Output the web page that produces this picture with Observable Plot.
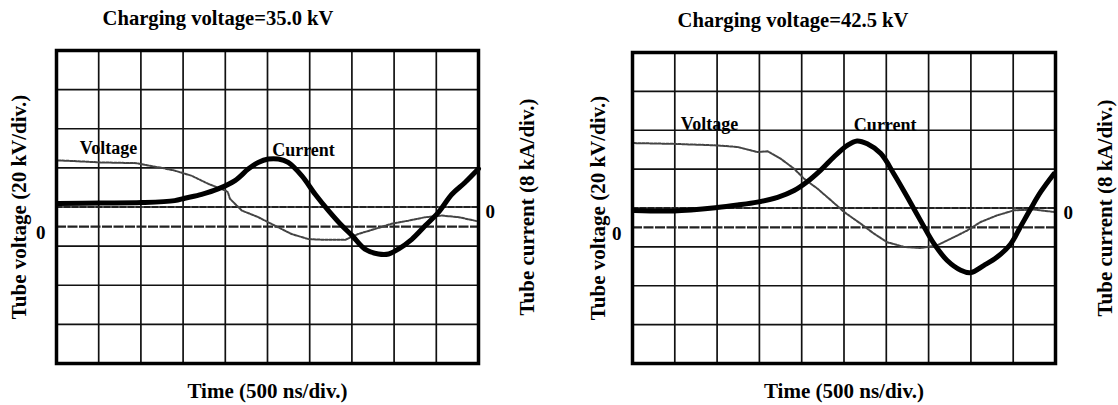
<!DOCTYPE html>
<html><head><meta charset="utf-8">
<script src="https://cdn.jsdelivr.net/npm/d3@7"></script>
<script src="https://cdn.jsdelivr.net/npm/@observablehq/plot@0.6"></script>
<style>
html,body{margin:0;padding:0;background:#fff;width:1118px;height:405px;overflow:hidden;}
.panel{position:absolute;top:0;}
.title{position:absolute;font-family:"Liberation Serif","Times New Roman",serif;font-weight:bold;font-size:20.6px;white-space:nowrap;transform:translate(-50%,-50%);color:#000;}
</style></head><body>
<div id="root"></div>
<script>
// Oscilloscope scales
const T_PER_DIV = 500;   // ns/div
const V_PER_DIV = 20;    // kV/div
const I_PER_DIV = 8;     // kA/div
const V_ZERO_DIV = -0.5; // voltage zero trace position (div from centre)
const I_ZERO_DIV = 0;    // current zero trace position

const titles = ["Charging voltage=35.0 kV", "Charging voltage=42.5 kV"];
const labelNames = ["Voltage", "Current"];

// Panel 1: charging voltage 35.0 kV  (time in ns, voltage in kV, current in kA)
const tV35 = [20,250,515,750,950,1085,1250,1400,1600,1800,2000,2030,2055,2195,2390,2590,2785,2985,3180,3420,3575,3775,3970,4170,4370,4565,4765,5000];
const v35  = [33.8,33.4,32.8,32.6,32.4,31.2,30.0,28.6,26.0,21.8,18.4,17.6,14.2,8.2,4.8,0.4,-3.8,-6.4,-6.8,-6.8,-3.8,-1.2,1.4,3.0,4.8,5.6,4.8,2.6];
const tI35 = [20,515,1010,1400,1520,1720,1915,2115,2275,2390,2510,2630,2745,2905,3065,3220,3380,3500,3655,3815,3935,4050,4210,4370,4525,4685,4840,5000];
const i35  = [0.7,0.8,0.9,1.3,1.8,2.6,3.7,5.4,7.8,9.1,9.8,9.8,9.1,6.4,2.6,-0.7,-3.8,-5.8,-8.6,-9.6,-9.6,-8.6,-6.6,-3.8,-1.1,2.6,5.0,7.8];
const labelT35 = [616, 2927];
const labelDiv35 = [1.49, 1.45];

// Panel 2: charging voltage 42.5 kV
const tV42 = [20,490,1000,1240,1475,1595,1750,1910,2030,2185,2345,2500,2695,2855,3010,3210,3405,3600,3800,3955,4115,4310,4510,4745,4980];
const v42  = [43.4,43.0,42.2,41.4,38.8,39.2,35.4,30.2,25.0,20.0,14.0,8.0,2.0,-3.2,-7.6,-10.0,-10.6,-9.2,-5.0,-1.6,2.8,6.2,8.8,9.2,8.0];
const tI42 = [20,490,1000,1240,1475,1715,1910,2065,2225,2380,2540,2655,2775,2935,3090,3250,3405,3565,3720,3880,3995,4155,4310,4470,4585,4705,4825,4980];
const i42  = [-0.5,-0.6,0.1,0.6,1.2,2.2,3.6,5.4,7.8,10.5,12.9,13.8,13.2,11.2,7.0,2.2,-2.6,-7.4,-10.8,-12.8,-13.3,-11.8,-10.1,-7.4,-3.9,-0.2,3.3,7.0];
const labelT42 = [910, 2987];
const labelDiv42 = [2.16, 2.14];

const vDiv = v => v / V_PER_DIV + V_ZERO_DIV;
const iDiv = i => i / I_PER_DIV + I_ZERO_DIV;

const FONT = '"Liberation Serif","Times New Roman",serif';

function panel(cfg) {
  const vRows = cfg.tV.map((t, k) => ({t, v: cfg.v[k]}));
  const iRows = cfg.tI.map((t, k) => ({t, i: cfg.i[k]}));
  const labels = labelNames.map((name, k) => ({name, t: cfg.labelT[k], y: cfg.labelDiv[k]}));
  return Plot.plot({
    width: 559, height: 405,
    marginLeft: cfg.ml, marginRight: cfg.mr, marginTop: cfg.mt, marginBottom: cfg.mb,
    style: {fontFamily: FONT, fontWeight: "bold", background: "#fff", color: "#000", overflow: "visible"},
    x: {domain: [0, 10 * T_PER_DIV], axis: null},
    y: {domain: [-4, 4], axis: null},
    marks: [
      Plot.gridX({ticks: d3.range(0, 10 * T_PER_DIV + 1, T_PER_DIV), stroke: "#111", strokeOpacity: 1, strokeWidth: 1.7}),
      Plot.gridY({ticks: d3.range(-4, 5, 1), stroke: "#111", strokeOpacity: 1, strokeWidth: 1.7}),
      Plot.ruleY([iDiv(0)], {stroke: "#222", strokeWidth: 2.2, strokeDasharray: "6,2"}),
      Plot.ruleY([vDiv(0)], {stroke: "#222", strokeWidth: 2.2, strokeDasharray: "10,1.5"}),
      Plot.line(vRows, {x: "t", y: d => vDiv(d.v), stroke: "#444", strokeWidth: 2, strokeDasharray: "2.5,1.5"}),
      Plot.line(iRows, {x: "t", y: d => iDiv(d.i), stroke: "#000", strokeWidth: 5, curve: "catmull-rom"}),
      Plot.frame({stroke: "#000", strokeWidth: 3.5}),
      Plot.text(labels, {x: "t", y: "y", text: "name", fontSize: 18, fontWeight: "bold", fill: "#000"}),
      Plot.axisX({ticks: [], label: "Time (500 ns/div.)", labelAnchor: "center", labelArrow: "none", labelOffset: 34, fontSize: 21}),
      Plot.axisY({anchor: "left", ticks: [], label: "Tube voltage (20 kV/div.)", labelAnchor: "center", labelArrow: "none", labelOffset: cfg.lo1, fontSize: 21}),
      Plot.axisY({anchor: "right", ticks: [], label: "Tube current (8 kA/div.)", labelAnchor: "center", labelArrow: "none", labelOffset: cfg.lo2, fontSize: 21}),
      Plot.axisY({anchor: "left", ticks: [vDiv(0)], tickFormat: () => "0", tickSize: 0, tickPadding: cfg.tp1, dy: 6, label: null, fontSize: 19}),
      Plot.axisY({anchor: "right", ticks: [iDiv(0)], tickFormat: () => "0", tickSize: 0, tickPadding: cfg.tp2, dy: 5, label: null, fontSize: 19})
    ]
  });
}

const root = document.getElementById("root");
const cfgs = [
  {left: 0, ml: 56, mr: 81, mt: 50, mb: 42, lo1: 45, lo2: 55, tp1: 11, tp2: 7, tV: tV35, v: v35, tI: tI35, i: i35, labelT: labelT35, labelDiv: labelDiv35, title: titles[0], tx: 218, ty: 18},
  {left: 559, ml: 73, mr: 63, mt: 52, mb: 42, lo1: 42, lo2: 56, tp1: 11, tp2: 8, tV: tV42, v: v42, tI: tI42, i: i42, labelT: labelT42, labelDiv: labelDiv42, title: titles[1], tx: 793, ty: 20}
];
for (const c of cfgs) {
  const div = document.createElement("div");
  div.className = "panel";
  div.style.left = c.left + "px";
  div.appendChild(panel(c));
  root.appendChild(div);
  const t = document.createElement("div");
  t.className = "title";
  t.style.left = c.tx + "px";
  t.style.top = c.ty + "px";
  t.textContent = c.title;
  root.appendChild(t);
}
</script>
</body></html>
